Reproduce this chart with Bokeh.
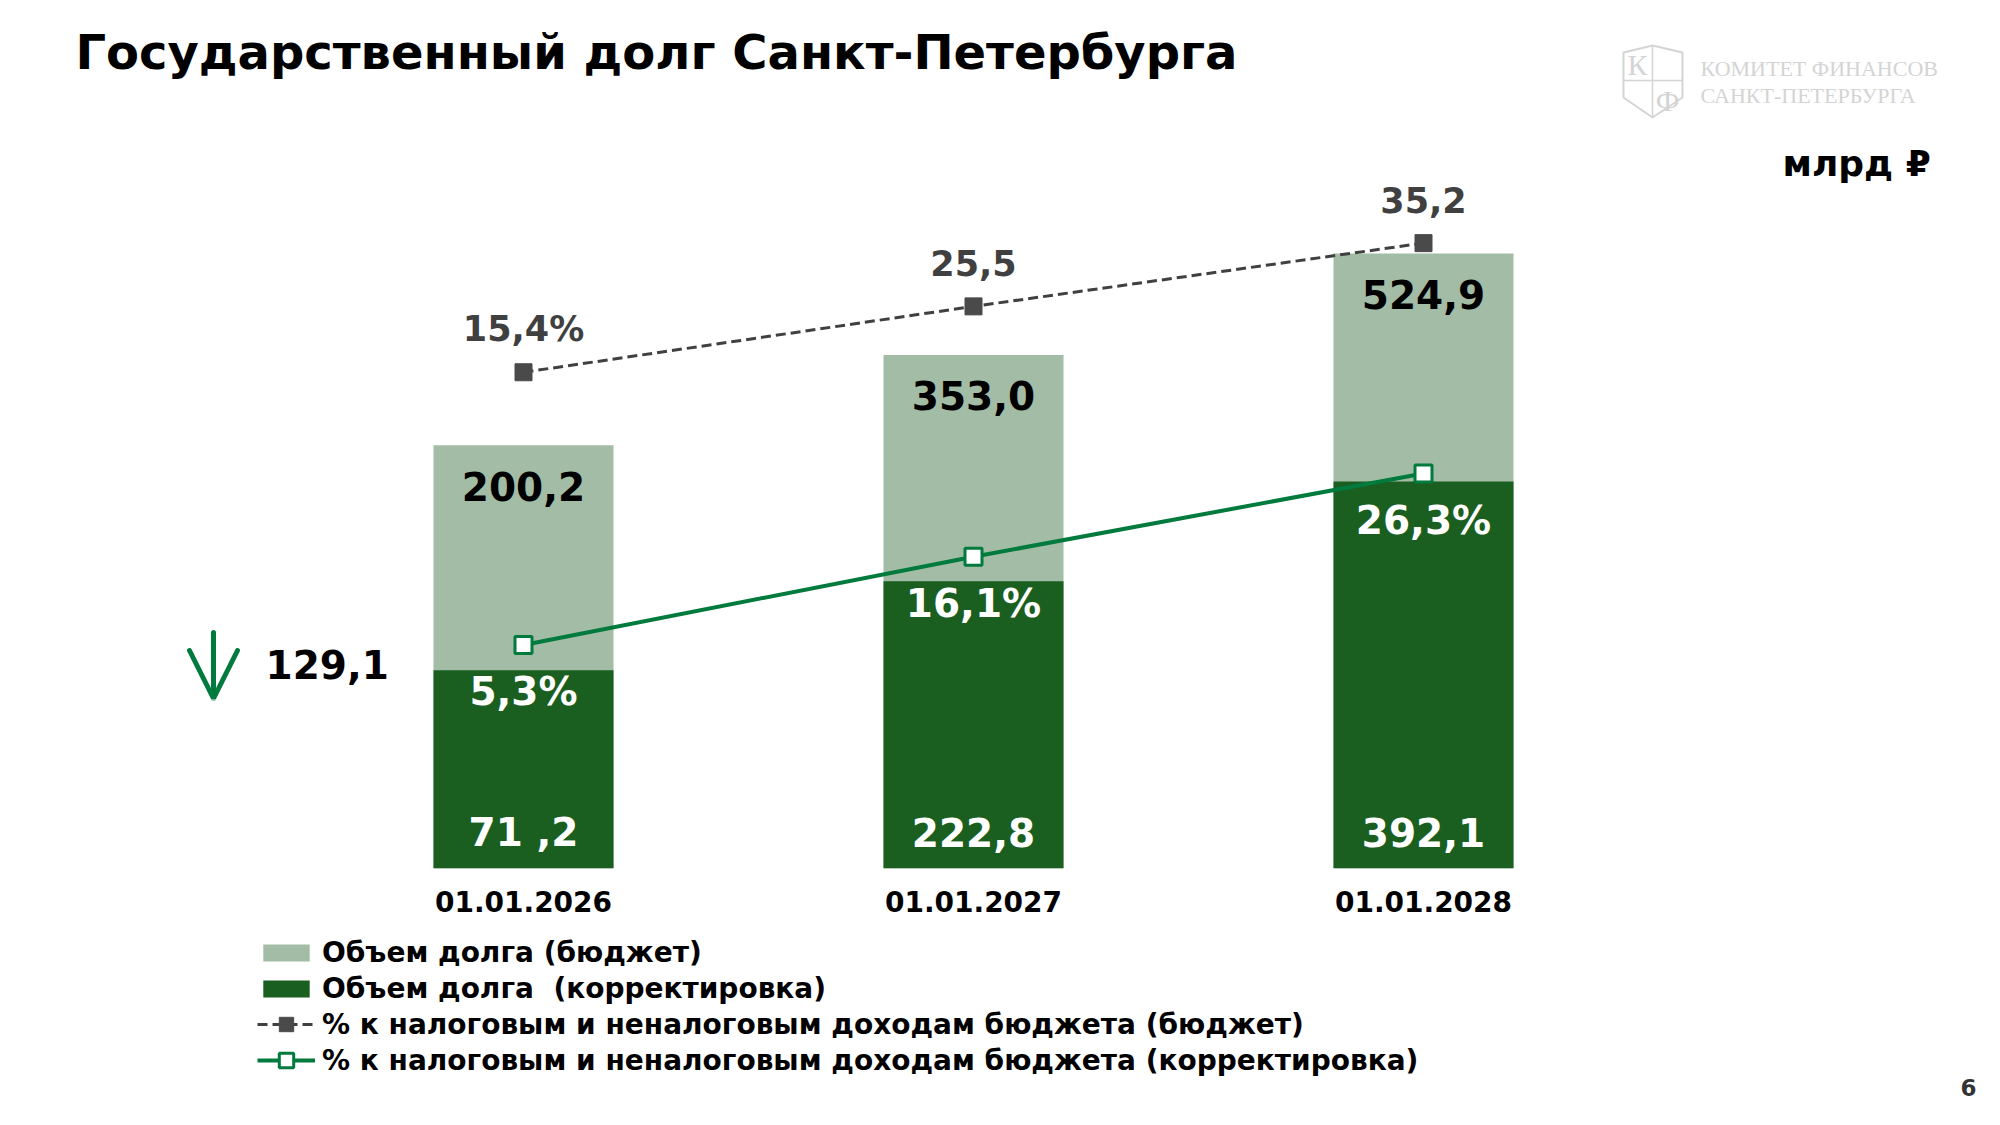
from bokeh.plotting import figure
from bokeh.models import Range1d, Legend, LegendItem, Arrow, OpenHead
from bokeh.core.properties import value
from bokeh.embed import file_html
from bokeh.resources import INLINE

# данные
dates = ["01.01.2026", "01.01.2027", "01.01.2028"]
debt_budget = [200.2, 353.0, 524.9]
debt_budget_labels = ["200,2", "353,0", "524,9"]
debt_corr = [71.2, 222.8, 392.1]
debt_corr_labels = ["71 ,2", "222,8", "392,1"]
pct_budget = [15.4, 25.5, 35.2]
pct_budget_labels = ["15,4%", "25,5", "35,2"]
pct_corr = [5.3, 16.1, 26.3]
pct_corr_labels = ["5,3%", "16,1%", "26,3%"]
reduction_label = "129,1"

TITLE = "Государственный долг Санкт-Петербурга"
LIGHT = "#a3bca6"
DARK = "#1a5e20"
GREEN = "#007a3d"
GREY = "#404040"
BOLD = value("DejaVu Sans")

W, H = 1984, 1109
BASE = H - 867.7      # базовая линия столбцов, px от низа
idx = list(range(len(dates)))


def offset_range(intercept, slope):
    # шкала, у которой 0 лежит на intercept px выше базовой линии
    return Range1d(start=-(BASE + intercept) / slope, end=(H - BASE - intercept) / slope)


p = figure(width=W, height=H, x_range=Range1d(-523 / 450, (W - 523) / 450),
           y_range=Range1d(H, 0), x_axis_type=None, y_axis_type=None,
           output_backend="svg", toolbar_location=None, min_border=0,
           outline_line_color=None, background_fill_color="white")
p.grid.visible = False
p.extra_x_ranges = {"px": Range1d(0, W)}
p.extra_y_ranges = {
    "budget": offset_range(304.8, 0.5906),
    "corr": offset_range(156.0, 0.5883),
    "pct_b": offset_range(395.5, 6.522),
    "pct_c": offset_range(180.0, 8.165),
}
budget_floor = -304.8 / 0.5906
corr_floor = -156.0 / 0.5883

# столбцы
r_light = p.vbar(x=idx, top=debt_budget, bottom=budget_floor, width=0.4,
                 fill_color=LIGHT, line_color=None, y_range_name="budget")
r_dark = p.vbar(x=idx, top=debt_corr, bottom=corr_floor, width=0.4,
                fill_color=DARK, line_color=None, y_range_name="corr")

# линии
r_gl = p.line(idx, pct_budget, line_color=GREY, line_width=3, line_dash="10 5", y_range_name="pct_b")
r_gp = p.scatter(idx, pct_budget, marker="square", size=17, fill_color="#4a4a4a",
                 line_color="#4a4a4a", y_range_name="pct_b")
r_cl = p.line(idx, pct_corr, line_color=GREEN, line_width=4, y_range_name="pct_c")
r_cp = p.scatter(idx, pct_corr, marker="square", size=17, fill_color="white",
                 line_color=GREEN, line_width=3, y_range_name="pct_c")

# подписи значений
lbl = dict(text_font=BOLD, text_font_style="bold", text_align="center", text_baseline="middle")
p.text(idx, debt_budget, text=debt_budget_labels, y_offset=41, text_font_size="39px",
       text_color="black", y_range_name="budget", **lbl)
p.text(idx, [corr_floor] * 3, text=debt_corr_labels, y_offset=-36, text_font_size="39px",
       text_color="white", y_range_name="corr", **lbl)
p.text(idx, pct_budget, text=pct_budget_labels, y_offset=-43, text_font_size="35px",
       text_color=GREY, y_range_name="pct_b", **lbl)
p.text(idx, pct_corr, text=pct_corr_labels, y_offset=47, text_font_size="39px",
       text_color="white", y_range_name="pct_c", **lbl)
p.text(idx, [corr_floor] * 3, text=dates, y_offset=33, text_font_size="28px",
       text_color="black", y_range_name="corr", **lbl)

# заголовок и прочий текст
txt = dict(x_range_name="px", text_font=BOLD, text_font_style="bold", text_baseline="middle")
p.text([75], [51], text=[TITLE], text_font_size="48px", text_color="black", **txt)
p.text([1782], [163], text=["млрд ₽"], text_font_size="36px", text_color="black", **txt)
p.text([265], [664], text=[reduction_label], text_font_size="39px", text_color="black", **txt)
p.text([1968], [1087], text=["6"], text_font_size="23px", text_align="center",
       text_color="#333333", **txt)

# логотип
LOGO = "#d4d4d4"
p.patch([1623, 1652, 1682, 1682, 1652, 1623], [52, 45, 52, 97, 117, 97], x_range_name="px",
        fill_color=None, line_color=LOGO, line_width=2)
p.segment([1652, 1623], [45, 80], [1652, 1682], [117, 80],
          x_range_name="px", line_color=LOGO, line_width=1.5)
p.text([1637, 1667], [64, 100], text=["К", "Ф"], x_range_name="px",
       text_font=value("Liberation Serif"), text_font_size="30px", text_align="center",
       text_baseline="middle", text_color=LOGO)
p.text([1700, 1700], [68, 95], text=["КОМИТЕТ ФИНАНСОВ", "САНКТ-ПЕТЕРБУРГА"],
       x_range_name="px", text_font=value("Liberation Serif"), text_font_size="22px",
       text_baseline="middle", text_color=LOGO)

# стрелка
p.add_layout(Arrow(x_start=213, y_start=632, x_end=213, y_end=698,
                   x_range_name="px", line_color=GREEN, line_width=5, line_cap="round",
                   end=OpenHead(size=48, line_color=GREEN, line_width=5, line_cap="round")))

# легенда
leg_style = dict(label_text_font="DejaVu Sans", label_text_font_style="bold",
                 label_text_font_size="28px", label_text_color="black",
                 label_standoff=7, label_height=36, glyph_width=58, spacing=0,
                 padding=0, margin=0, border_line_alpha=0, background_fill_alpha=0)
leg1 = Legend(items=[LegendItem(label="Объем долга (бюджет)", renderers=[r_light]),
                     LegendItem(label="Объем долга  (корректировка)", renderers=[r_dark])],
              location=(257, 103), glyph_height=21, **leg_style)
leg2 = Legend(items=[LegendItem(label="% к налоговым и неналоговым доходам бюджета (бюджет)",
                                renderers=[r_gl, r_gp]),
                     LegendItem(label="% к налоговым и неналоговым доходам бюджета (корректировка)",
                                renderers=[r_cl, r_cp])],
              location=(257, 31), glyph_height=36, **leg_style)
p.add_layout(leg1)
p.add_layout(leg2)

open("out.html", "w").write(file_html(p, INLINE))
